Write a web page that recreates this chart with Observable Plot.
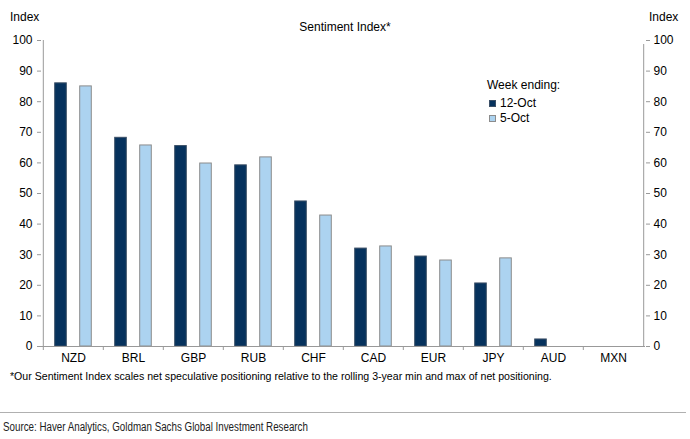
<!DOCTYPE html>
<html>
<head>
<meta charset="utf-8">
<script src="https://cdn.jsdelivr.net/npm/d3@7"></script>
<script src="https://cdn.jsdelivr.net/npm/@observablehq/plot@0.6"></script>
<style>
  body { margin: 0; background: #fff; }
  #wrap { position: relative; width: 690px; height: 439px; font-family: "Liberation Sans", Arial, sans-serif; color: #000; overflow: hidden; }
  .abs { position: absolute; white-space: nowrap; line-height: 1; }
  .sw { position: absolute; width: 7px; height: 7px; box-sizing: border-box; }
</style>
</head>
<body>
<div id="wrap">
  <div id="chart" style="position:absolute;left:0;top:0;"></div>
  <div class="abs" style="left:10px;top:11px;font-size:12px;">Index</div>
  <div class="abs" style="left:649px;top:11px;font-size:12px;">Index</div>
  <div class="abs" style="left:0;width:690px;text-align:center;top:21px;font-size:12px;">Sentiment Index*</div>
  <div class="abs" style="left:487px;top:79px;font-size:12px;">Week ending:</div>
  <div class="sw" style="left:489px;top:100px;background:#06325d;border:1px solid #3b4f66;"></div>
  <div class="abs" style="left:500px;top:97px;font-size:12px;">12-Oct</div>
  <div class="sw" style="left:489px;top:115px;background:#acd3f0;border:1px solid #8c8c8c;"></div>
  <div class="abs" style="left:500px;top:112px;font-size:12px;">5-Oct</div>
  <div class="abs" style="left:10px;top:371px;font-size:10.6px;">*Our Sentiment Index scales net speculative positioning relative to the rolling 3-year min and max of net positioning.</div>
  <div style="position:absolute;left:0;top:412px;width:686px;height:0;border-top:1px solid #b0b0b0;"></div>
  <div class="abs" style="left:3px;top:421px;font-size:12px;color:#222;transform:scaleX(0.815);transform-origin:0 0;">Source: Haver Analytics, Goldman Sachs Global Investment Research</div>
</div>
<script>
const categories = ["NZD", "BRL", "GBP", "RUB", "CHF", "CAD", "EUR", "JPY", "AUD", "MXN"];
const oct12 = [86, 68.2, 65.5, 59.2, 47.4, 32, 29.4, 20.6, 2.3, 0];
const oct5 = [85, 65.7, 59.8, 61.8, 42.8, 32.7, 28.1, 28.8, 0, 0];
const yTicks = [0, 10, 20, 30, 40, 50, 60, 70, 80, 90, 100];

const W = 690, H = 366, mL = 41, mR = 45, mT = 40, mB = 20;
const band = (W - mL - mR) / categories.length;
const barW = 12;
const inset = (band - barW) / 2;

const d12 = categories.map((c, i) => ({cat: c, v: oct12[i]})).filter(d => d.v > 0);
const d5 = categories.map((c, i) => ({cat: c, v: oct5[i]})).filter(d => d.v > 0);

const plot = Plot.plot({
  width: W, height: H,
  marginLeft: mL, marginRight: mR, marginTop: mT, marginBottom: mB,
  style: {fontFamily: "'Liberation Sans', Arial, sans-serif", fontSize: "12px", color: "#000", background: "transparent"},
  x: {domain: categories, padding: 0, axis: null},
  y: {domain: [0, 100], axis: null},
  marks: [
    Plot.barY(d12, {x: "cat", y: "v", fill: "#06325d", stroke: "#3b4f66", strokeWidth: 1, insetLeft: inset, insetRight: inset, dx: -12.5}),
    Plot.barY(d5, {x: "cat", y: "v", fill: "#acd3f0", stroke: "#8c8c8c", strokeWidth: 1, insetLeft: inset, insetRight: inset, dx: 12.5}),
    Plot.ruleY([0], {stroke: "#999"}),
    Plot.ruleX([categories[0]], {x: d => d, y1: 0, y2: 100, dx: -band / 2, stroke: "#999"}),
    Plot.ruleX([categories[categories.length - 1]], {x: d => d, y1: 0, y2: 100, dx: band / 2, stroke: "#999", insetBottom: -4}),
    Plot.ruleX(categories, {x: d => d, y1: 0, y2: 0, dx: -band / 2, stroke: "#999", insetBottom: -4}),
    Plot.axisY(yTicks, {anchor: "left", tickSize: 4, tickPadding: 5, stroke: "#999", label: null, fontSize: 12}),
    Plot.axisY(yTicks, {anchor: "right", tickSize: 4, tickPadding: 4, stroke: "#999", label: null, fontSize: 12}),
    Plot.axisX(categories, {anchor: "bottom", tickSize: 0, tickPadding: 7, label: null, fontSize: 12})
  ]
});
document.getElementById("chart").appendChild(plot);
</script>
</body>
</html>
